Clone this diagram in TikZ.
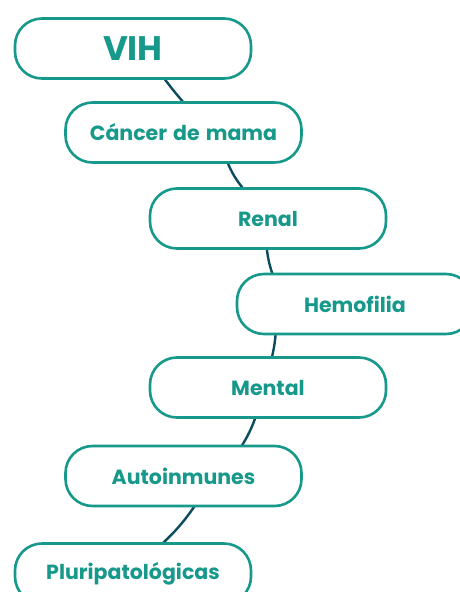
\documentclass[tikz,border=0pt]{standalone}
\usepackage{fontspec}
\setmainfont{Poppins}[WordSpace=1.4]
\usetikzlibrary{calc,backgrounds}
\definecolor{tealc}{HTML}{16998A}
\definecolor{linec}{HTML}{0D4B5E}
\tikzset{
  box/.style={draw=tealc, line width=2.6pt, fill=white, rounded corners=27pt,
    minimum width=236pt, minimum height=60pt, inner sep=0pt,
    text=tealc, font=\bfseries\fontsize{20.5}{24}\selectfont},
  conn/.style={draw=linec, line width=2.4pt}
}
\begin{document}
\begin{tikzpicture}[x=1pt,y=-1pt]
\clip (0,0) rectangle (460,592);
\node[box, font=\bfseries\fontsize{34}{38}\selectfont] (vih) at (133,48.5) {VIH};
\node[box] (canc) at (183.5,132.5) {\raisebox{-1.5pt}{Cáncer de mama}};
\node[box] (renal) at (268,218.5) {\raisebox{-1.5pt}{Renal}};
\node[box] (hemo) at (355,304) {\raisebox{-1.5pt}{Hemofilia}};
\node[box] (ment) at (268,387.5) {\raisebox{-1.5pt}{Mental}};
\node[box] (auto) at (183.5,476) {\raisebox{-1.5pt}{Autoinmunes}};
\node[box] (pluri) at (133,573.5) {\raisebox{-1.5pt}{Pluripatológicas}};
\begin{scope}[on background layer]
\fill[white] (0,0) rectangle (460,592);
\draw[conn] ($(vih.south west)+(150,-2)$) to[bend right=2] ($(canc.north west)+(120,2)$);
\draw[conn] ($(canc.south west)+(163,-2)$) to[bend right=8] ($(renal.north west)+(95,2)$);
\draw[conn] ($(renal.south west)+(118,-2)$) to[bend right=6] ($(hemo.north west)+(37,2)$);
\draw[conn] ($(hemo.south west)+(40,-2)$) to[bend left=4] ($(ment.north west)+(123,2)$);
\draw[conn] ($(ment.south west)+(107,-2)$) to[bend left=6] ($(auto.north west)+(177,2)$);
\draw[conn] ($(auto.south west)+(131,-2)$) to[bend left=6] ($(pluri.north west)+(148,2)$);
\end{scope}
\end{tikzpicture}
\end{document}
